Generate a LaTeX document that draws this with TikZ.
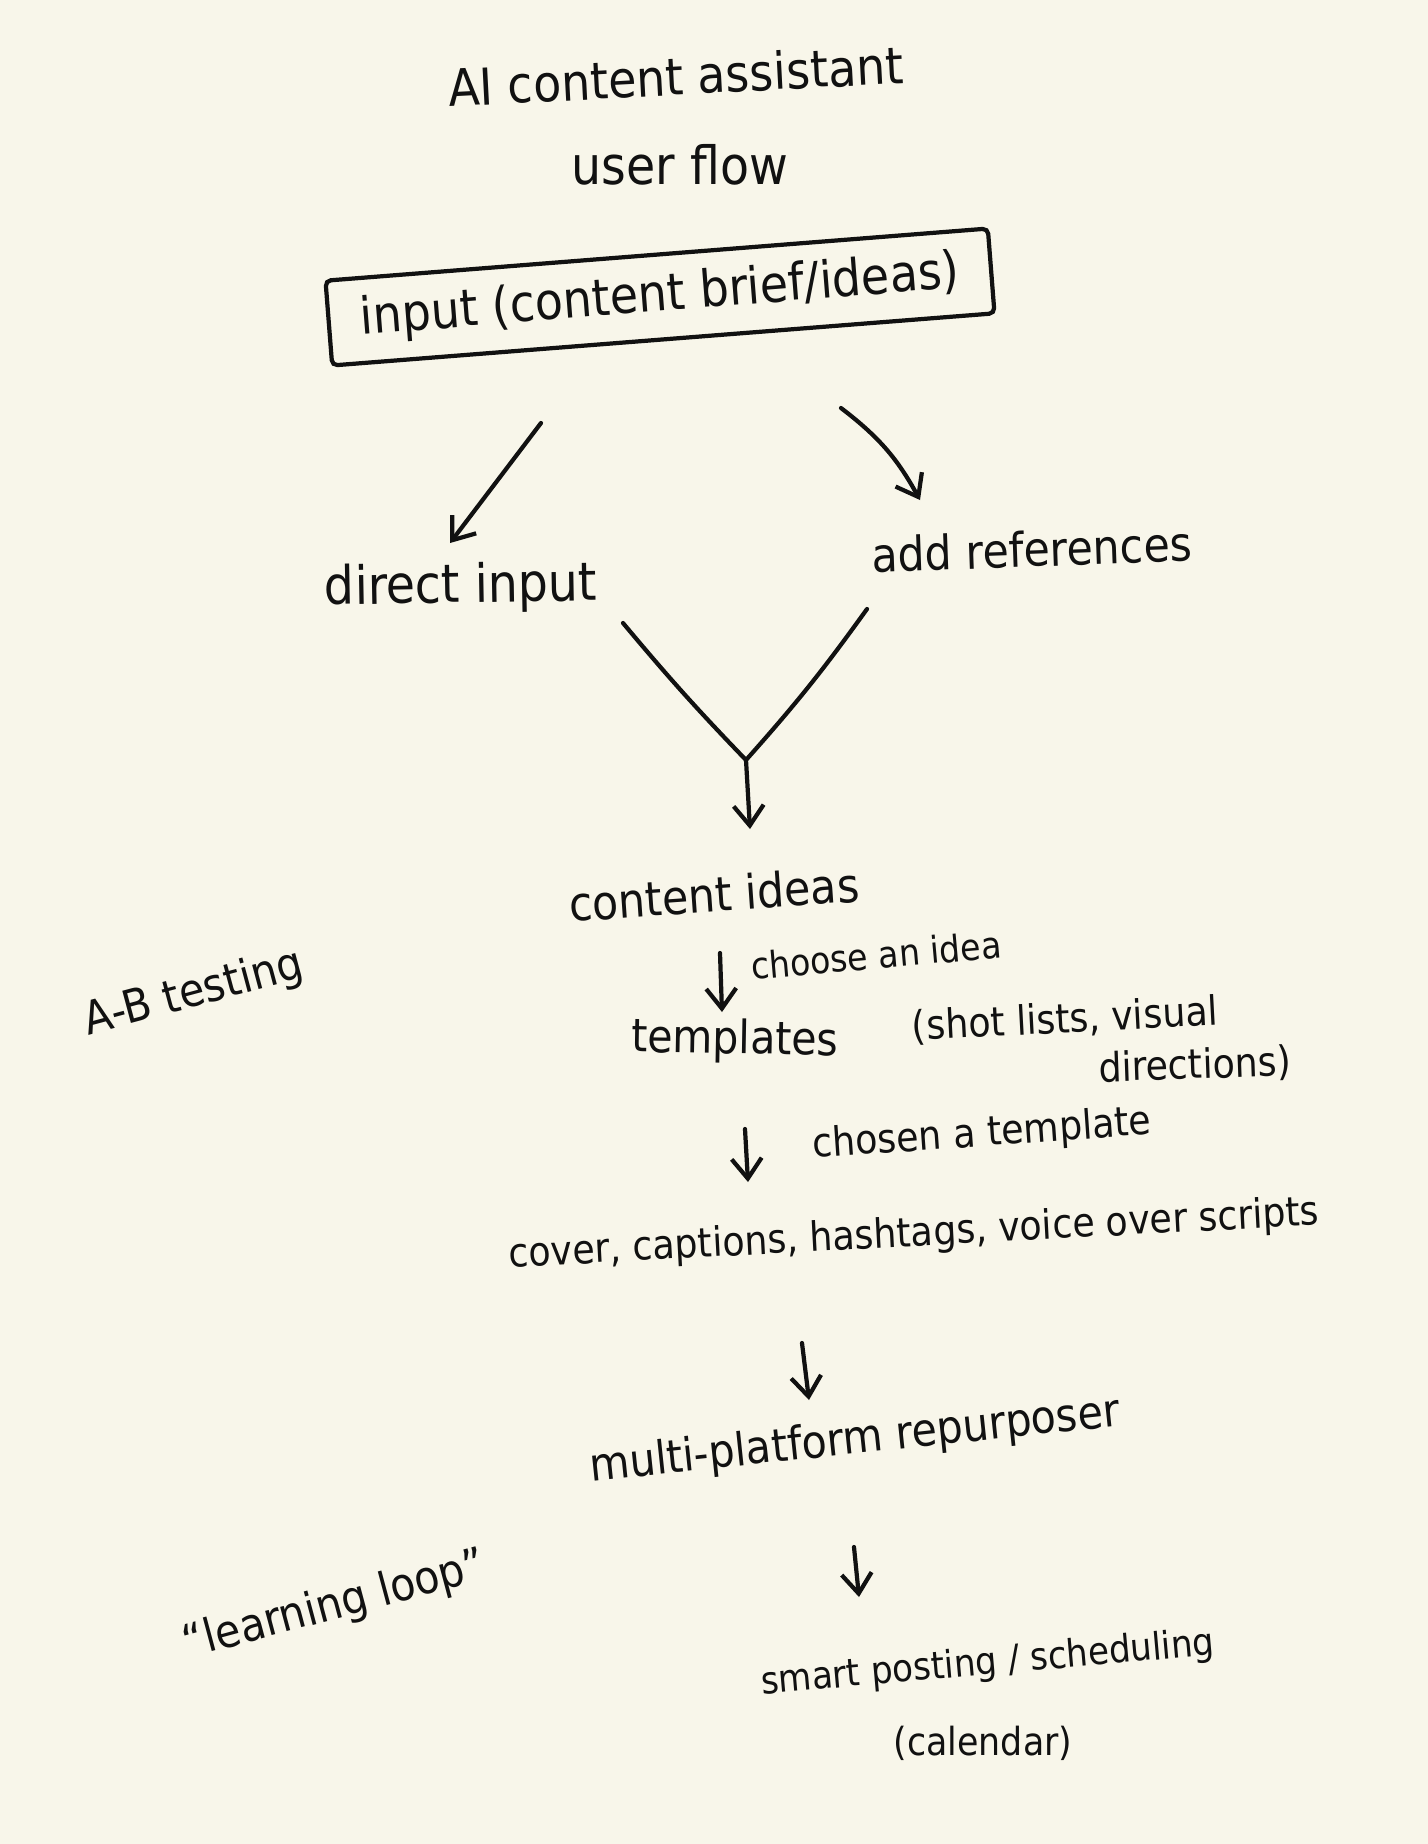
\documentclass[tikz,border=0pt]{standalone}
\usepackage{fontspec}
\setmainfont{DejaVu Sans Condensed}
\usetikzlibrary{arrows.meta,calc}
\definecolor{paper}{HTML}{F8F6EA}
\definecolor{ink}{HTML}{111111}
\begin{document}
\begin{tikzpicture}[x=0.01cm,y=-0.01cm,
  txt/.style={font=\fontsize{13}{15}\selectfont, text=ink, inner sep=2pt},
  lbl/.style={font=\fontsize{11}{13}\selectfont, text=ink, inner sep=2pt},
  arr/.style={draw=ink, line width=1.2pt, line cap=round, line join=round, -{Straight Barb[length=2mm,width=3mm]}},
  ln/.style={draw=ink, line width=1.2pt, line cap=round},
  inbox/.style={draw=ink, line width=1.2pt, rounded corners=1.5pt, minimum width=6.64cm, minimum height=0.85cm, inner sep=2pt}]
\fill[paper] (0,0) rectangle (1428,1844);
\useasboundingbox (0,0) rectangle (1428,1844);

\node[txt, rotate=3, font=\fontsize{14.5}{16}\selectfont] (title) at (676,76) {AI content assistant};
\node[txt, font=\fontsize{15}{17}\selectfont] (flow) at (680,165) {user flow};
\node[inbox, txt, rotate=4.5, font=\fontsize{14.5}{16}\selectfont] (inp) at (660,297) {input (content brief/ideas)};
\node[txt, rotate=1, font=\fontsize{15}{17}\selectfont] (di) at (461,588) {direct input};
\node[txt, rotate=2, font=\fontsize{13.5}{15}\selectfont] (ar) at (1032,549) {add references};
\coordinate (j) at (746,760);
\node[txt, rotate=4, font=\fontsize{13.5}{15}\selectfont] (ci) at (714,894) {content ideas};
\node[lbl, rotate=5, font=\fontsize{10.5}{12}\selectfont] (l1) at (876,955) {choose an idea};
\node[txt, rotate=-1] (tp) at (735,1041) {templates};
\node[lbl, inner sep=0pt, rotate=3, font=\fontsize{11.5}{13}\selectfont] (sl) at (1065,1020) {(shot lists, visual};
\node[lbl, inner sep=0pt, rotate=2, font=\fontsize{11.5}{13}\selectfont] (sl2) at (1195,1066) {directions)};
\node[lbl, rotate=4, font=\fontsize{11.5}{13}\selectfont] (l2) at (982,1135) {chosen a template};
\node[txt, rotate=3, font=\fontsize{11.5}{13}\selectfont] (cv) at (914,1235) {cover, captions, hashtags, voice over scripts};
\node[txt, rotate=6] (mp) at (855,1441) {multi-platform repurposer};
\node[txt, rotate=5, font=\fontsize{10.8}{12.5}\selectfont] (sp) at (988,1664) {smart posting / scheduling};
\node[txt, font=\fontsize{11}{13}\selectfont] (cal) at (983,1743) {(calendar)};
\node[txt, rotate=15] (ab) at (194,994) {A-B testing};
\node[txt, rotate=15] (ll) at (335,1606) {``learning loop''};

\draw[arr] ($(inp.center)+(-119,126)$) -- ($(di.center)+(-11,-45)$);
\draw[arr] ($(inp.center)+(181,111)$) to[bend left=12] ($(ar.center)+(-112,-49)$);
\draw[ln] ($(di.center)+(162,35)$) to[bend right=2] (j);
\draw[ln] ($(ar.center)+(-165,60)$) to[bend left=3] (j);
\draw[arr] (j) -- ($(ci.center)+(36,-65)$);
\draw[arr] ($(ci.center)+(6,59)$) -- ($(tp.center)+(-13,-29)$);
\draw[arr] ($(tp.center)+(10,88)$) -- ($(cv.center)+(-166,-53)$);
\draw[arr] ($(cv.center)+(-112,108)$) -- ($(mp.center)+(-46,-41)$);
\draw[arr] ($(mp.center)+(-1,106)$) -- ($(sp.center)+(-129,-67)$);
\end{tikzpicture}
\end{document}
